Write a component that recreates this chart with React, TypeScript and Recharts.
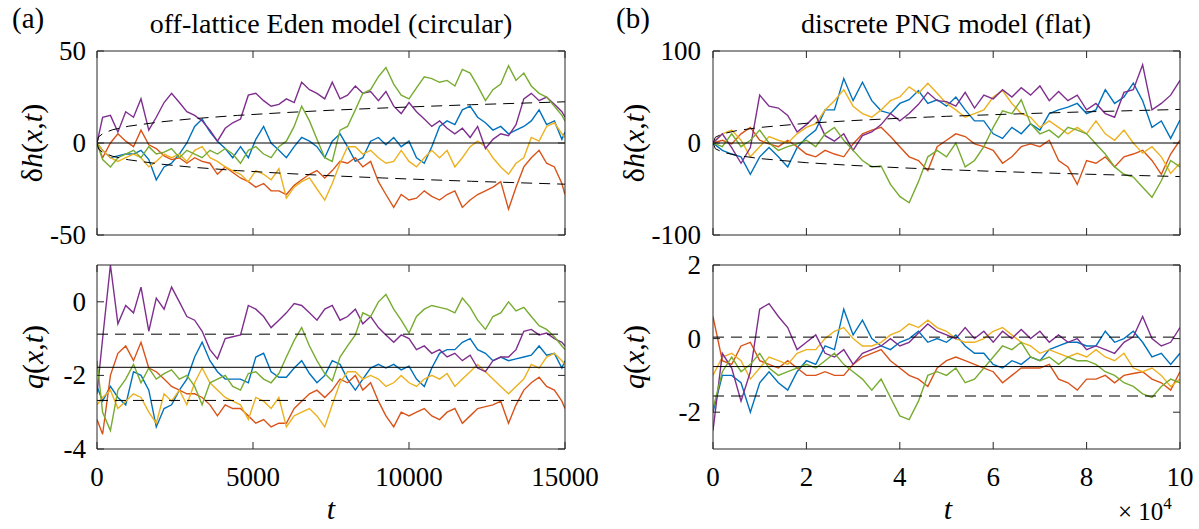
import React from 'react';
import { LineChart, Line, XAxis, YAxis } from 'recharts';

const FONT = '"Liberation Serif", "Times New Roman", Times, serif';
const FS = { fontFamily: FONT };
const AXC = '#262626';
const TL = 7;
const TICKFS = 27;

// ---------- panel (a): off-lattice Eden model (circular) ----------
const tA = [0,180,430,670,920,1170,1410,1660,1900,2150,2390,2640,2880,3130,3370,3620,3860,4110,4350,4600,4850,5090,5340,5580,5830,6070,6320,6560,6810,7050,7300,7540,7790,8030,8280,8520,8770,9020,9260,9510,9750,10000,10240,10490,10730,10980,11220,11470,11710,11960,12200,12450,12690,12940,13190,13430,13680,13920,14170,14410,14660,14900,15000];

const aDhBlue = [0,-4,-8,-7,-6,-6,-4,-9,-20,-13, -11,-6,0,9,13,6,1,-3,-8,-2, -8,2,9,0,-4,-8,-2,3,1,-2, -8,1,5,-2,-10,-8,1,3,-1,3, -2,1,-8,-11,-2,9,12,10,18,20, 14,11,7,9,5,7,9,12,18,10, 12,2,6];
const aDhOrange = [0,-8,0,5,1,-2,7,-1,-3,-7, -9,-8,-11,-8,-10,-11,-17,-13,-16,-19, -21,-24,-22,-26,-26,-28,-23,-20,-17,-15, -19,-15,-10,-11,-8,-13,-10,-21,-28,-35, -28,-31,-30,-26,-29,-31,-28,-26,-35,-31, -28,-26,-24,-21,-36,-24,-13,-8,-4,-11, -13,-22,-28];
const aDhYellow = [0,-4,-8,-10,-8,-6,-8,-13,-10,-6, -8,-6,-10,-4,-2,-8,-10,-13,-15,-17, -21,-15,-17,-20,-14,-30,-24,-21,-19,-25, -31,-22,-11,-2,-2,-6,-4,-8,-11,-10, -4,-10,-13,-8,-4,-8,-4,-13,-8,-2, 1,-2,-8,-13,-17,-11,-8,3,1,9, 11,5,3];
const aDhPurple = [0,14,15,6,17,14,24,7,14,22, 27,22,17,15,12,7,1,8,11,13, 26,27,23,20,21,24,22,33,29,27, 24,33,24,26,31,27,28,23,28,20, 16,22,17,13,9,12,8,5,8,3, 9,-3,2,5,4,10,24,27,23,25, 21,17,14];
const aDhGreen = [0,-9,-13,-8,-6,-4,-8,-2,-6,-5, -3,-8,-4,-6,-8,-4,-6,-3,-6,-11, -4,-2,-6,-8,-2,1,9,20,12,2, -8,-10,7,9,18,27,29,36,41,32, 26,24,30,36,35,33,34,31,40,38, 31,23,29,32,42,34,38,31,27,25, 20,15,12];

const aQBlue = [-2.3,-2.7,-2.3,-2.6,-2.8,-1.9,-2.0,-2.4,-3.4,-2.9, -2.8,-2.4,-2.1,-1.5,-1.1,-1.6,-1.9,-2.1,-2.1,-2.1, -2.2,-1.5,-1.4,-1.9,-2.05,-2.05,-1.8,-1.6,-1.95,-2.2, -2.0,-1.6,-1.7,-2.1,-2.4,-2.1,-1.8,-1.7,-1.8,-1.7, -1.85,-1.75,-2.1,-2.3,-1.8,-1.4,-1.3,-1.3,-1.1,-1.0, -1.3,-1.4,-1.6,-1.5,-1.6,-1.55,-1.5,-1.45,-1.2,-1.45, -1.4,-1.8,-1.6];
const aQOrange = [-3.2,-3.6,-2.0,-1.4,-1.2,-1.6,-1.1,-1.8,-1.9,-2.1, -2.3,-2.4,-2.5,-2.5,-2.6,-2.8,-3.1,-2.8,-2.9,-2.9, -3.1,-3.3,-3.2,-3.4,-3.3,-3.3,-2.9,-2.7,-2.5,-2.4, -2.6,-2.4,-2.1,-2.2,-2.0,-2.4,-2.2,-2.7,-3.1,-3.4, -3.0,-3.1,-3.0,-2.9,-3.1,-3.2,-3.0,-2.9,-3.3,-3.1, -2.9,-2.85,-2.8,-2.7,-3.3,-2.8,-2.4,-2.2,-2.05,-2.3, -2.4,-2.7,-2.9];
const aQYellow = [-2.8,-2.6,-2.4,-2.9,-2.7,-2.5,-2.6,-3.0,-3.3,-2.5, -2.7,-2.4,-2.8,-2.2,-1.8,-2.2,-2.4,-2.6,-2.7,-2.8, -3.2,-2.6,-2.7,-2.9,-2.6,-3.4,-3.1,-3.0,-2.9,-3.1, -3.4,-2.8,-2.2,-1.9,-1.9,-2.1,-2.0,-2.1,-2.3,-2.2, -2.0,-2.2,-2.3,-2.1,-2.0,-2.1,-1.95,-2.3,-2.1,-1.9, -1.7,-1.9,-2.1,-2.3,-2.5,-2.3,-2.1,-1.7,-1.8,-1.5, -1.4,-1.6,-1.7];
const aQPurple = [-2.5,-1.0,1.0,-0.6,-0.1,-0.3,0.4,-0.8,0.1,-0.2, 0.4,0.0,-0.4,-0.5,-0.8,-1.3,-1.55,-1.0,-0.95,-0.9, -0.1,-0.2,-0.4,-0.7,-0.5,-0.3,-0.05,-0.1,-0.3,-0.5, -0.2,-0.1,-0.5,-0.4,-0.2,-0.6,-0.4,-0.7,-0.9,-1.1, -0.9,-1.0,-1.3,-1.2,-1.4,-1.3,-1.5,-1.4,-1.6,-1.45, -1.8,-1.9,-1.6,-1.5,-1.5,-1.3,-0.8,-0.75,-0.9,-0.85, -1.0,-1.1,-1.2];
const aQGreen = [-1.6,-3.0,-3.5,-2.4,-2.1,-1.7,-2.2,-1.8,-2.1,-1.95, -1.85,-2.1,-2.0,-2.3,-2.8,-2.2,-2.1,-2.0,-2.3,-2.4, -1.95,-1.9,-2.1,-2.2,-1.95,-1.5,-1.05,-0.7,-1.2,-1.6, -1.95,-2.15,-1.5,-1.2,-0.9,-0.3,-0.4,0.0,0.2,-0.2, -0.5,-0.85,-0.4,-0.2,-0.1,-0.15,-0.2,-0.3,0.1,-0.15, -0.5,-0.75,-0.4,-0.3,0.0,-0.25,-0.15,-0.4,-0.65,-0.75, -0.95,-1.2,-1.3];

const aDashT = [0,50,200,500,1000,2000,3000,4500,6000,7500,9000,10500,12000,13500,15000];
const aDashUp = [0,3.3,5.3,7.2,9.1,11.4,13.1,15.0,16.5,17.8,18.9,19.9,20.8,21.6,22.4];
const aDashLo = [0,-3.3,-5.3,-7.2,-9.1,-11.4,-13.1,-15.0,-16.5,-17.8,-18.9,-19.9,-20.8,-21.6,-22.4];
const aQMean = -1.78;
const aQBand = [-0.88, -2.68];

// ---------- panel (b): discrete PNG model (flat) ----------
const tB = [0,2000,4000,6000,8000,10000,12000,14000,16000,18000,20000,22000,24000,26000,28000,30000,32000,34000,36000,38000,40000,42000,44000,46000,48000,50000,52000,54000,56000,58000,60000,62000,64000,66000,68000,70000,72000,74000,76000,78000,80000,82000,84000,86000,88000,90000,92000,94000,96000,98000,100000];

const bDhBlue = [0,-8,-12,-15,-34,-15,-5,-15,-26,-5, 6,14,36,36,70,46,66,46,35,32, 43,47,57,43,47,40,50,36,24,24, 10,5,17,10,21,14,32,36,39,43, 32,36,58,43,50,65,46,17,24,5, 25];
const bDhOrange = [0,3,-1,10,17,3,-1,-4,3,-4, -12,-15,-8,-12,-15,-1,10,14,17,7, -4,-15,-19,-30,-4,3,10,7,-1,-4, -8,-22,-15,-4,-1,-4,3,-19,-26,-45, -19,-22,-15,-26,-15,-12,-8,-19,-34,-12, 3];
const bDhYellow = [0,10,14,3,-15,-4,7,3,0,10, 17,21,36,46,58,40,32,28,36,46, 50,61,54,65,54,43,36,28,32,36, 50,57,43,32,28,17,24,17,10,17, 10,24,10,3,14,0,-11,-4,-15,-33, -22];
const bDhPurple = [0,10,-5,-22,-5,52,40,38,30,12, 20,30,8,2,10,-8,8,12,20,32, 24,32,42,55,46,45,40,55,38,52, 48,58,50,60,52,62,46,56,46,52, 36,43,32,28,55,58,85,36,43,52, 68];
const bDhGreen = [0,-4,10,-4,3,14,0,-8,-4,-1, 3,-4,10,17,3,-8,-19,-26,-25,-45, -58,-65,-42,-15,-8,-15,0,-26,-19,-4, 17,35,32,47,21,10,14,6,17,14, 10,-1,-12,-26,-34,-37,-48,-59,-41,-19, -26];

const bQBlue = [-2.0,-1.0,-1.0,-1.2,-2.0,-1.2,-0.9,-1.2,-1.4,-0.9, -0.6,-0.7,-0.2,-0.3,0.8,0.1,0.5,0.0,-0.2,-0.3, -0.1,0.0,0.2,-0.1,0.0,-0.1,0.1,-0.2,-0.4,-0.4, -0.7,-0.8,-0.6,-0.7,-0.5,-0.6,-0.3,-0.2,-0.1,-0.1, -0.2,-0.2,0.2,-0.1,0.0,0.2,-0.1,-0.5,-0.4,-0.7, -0.4];
const bQOrange = [0.6,-0.6,-0.7,-0.2,-0.1,-0.6,-0.7,-0.8,-0.6,-0.8, -1.0,-1.0,-0.9,-1.0,-1.0,-0.7,-0.5,-0.4,-0.3,-0.6, -0.8,-1.0,-1.1,-1.3,-0.8,-0.6,-0.5,-0.6,-0.7,-0.8, -0.9,-1.2,-1.0,-0.8,-0.8,-0.8,-0.7,-1.1,-1.2,-1.4, -1.1,-1.1,-1.0,-1.2,-1.0,-0.95,-0.9,-1.1,-1.2,-1.4, -0.9];
const bQYellow = [-1.0,-0.5,-0.4,-0.6,-1.1,-0.8,-0.5,-0.6,-0.7,-0.4, -0.3,-0.3,0.0,0.2,0.3,0.0,-0.2,-0.2,-0.1,0.1, 0.2,0.4,0.3,0.5,0.3,0.2,0.0,-0.1,-0.1,0.0, 0.2,0.3,0.1,-0.1,-0.2,-0.4,-0.3,-0.4,-0.5,-0.4, -0.5,-0.3,-0.5,-0.6,-0.4,-0.8,-0.9,-0.8,-1.0,-1.3, -1.1];
const bQPurple = [-2.5,-0.4,-0.8,-1.7,-0.9,0.8,0.95,0.6,0.3,-0.3, -0.1,0.1,-0.4,-0.5,-0.3,-0.7,-0.4,-0.3,-0.2,0.0, -0.2,-0.1,0.15,0.4,0.2,0.1,0.0,0.3,0.0,0.2, -0.1,0.2,0.0,0.25,0.0,0.2,-0.1,0.1,-0.1,0.0, -0.3,-0.2,-0.3,-0.4,-0.1,0.05,0.6,0.0,-0.2,-0.1, 0.3];
const bQGreen = [-1.9,-0.9,-0.5,-0.9,-0.7,-0.4,-0.8,-1.0,-0.9,-0.8, -0.7,-0.8,-0.6,-0.4,-0.7,-0.9,-1.1,-1.4,-1.1,-1.6, -2.1,-2.2,-1.7,-1.0,-0.9,-1.0,-0.8,-1.2,-1.1,-0.8, -0.5,-0.2,-0.3,-0.1,-0.5,-0.6,-0.5,-0.7,-0.5,-0.6, -0.6,-0.7,-0.9,-1.0,-1.2,-1.3,-1.5,-1.6,-1.3,-1.1, -1.2];

const bDashT = [0,500,2000,5000,10000,20000,30000,40000,50000,60000,70000,80000,90000,100000];
const bDashUp = [0,6.2,9.9,13.4,16.9,21.4,24.4,26.9,29.0,30.8,32.4,33.9,35.2,36.5];
const bDashLo = [0,-6.2,-9.9,-13.4,-16.9,-21.4,-24.4,-26.9,-29.0,-30.8,-32.4,-33.9,-35.2,-36.5];
const bQMean = -0.76;
const bQBand = [0.04, -1.56];

// ---------- ticks ----------
const aXTicks = [0, 5000, 10000, 15000];
const bXTicks = [0, 20000, 40000, 60000, 80000, 100000];
const aDhTicks = [-50, 0, 50];
const aQTicks = [-4, -2, 0];
const bDhTicks = [-100, 0, 100];
const bQTicks = [-2, 0, 2];

const SERIES = [
  { key: 'blue', color: '#0072BD' },
  { key: 'orange', color: '#D95319' },
  { key: 'yellow', color: '#EDB120' },
  { key: 'purple', color: '#7E2F8E' },
  { key: 'green', color: '#77AC30' },
];

function rowsOf(t: number[], b: number[], o: number[], y: number[], p: number[], g: number[]) {
  return t.map((tt, i) => ({ t: tt, blue: b[i], orange: o[i], yellow: y[i], purple: p[i], green: g[i] }));
}
function pts(t: number[], v: number[]) {
  return t.map((tt, i) => ({ t: tt, v: v[i] }));
}

const bottomTick = (show: boolean, fmt: (v: number) => string) => (props: any) => {
  const { x, y, payload } = props;
  return (
    <g>
      <line x1={x} y1={y} x2={x} y2={y - TL} stroke={AXC} strokeWidth={1} />
      {show && (
        <text x={x} y={y + 37} textAnchor="middle" style={FS} fontSize={TICKFS} fill="#000">
          {fmt(payload.value)}
        </text>
      )}
    </g>
  );
};
const topTick = (props: any) => {
  const { x, y } = props;
  return <line x1={x} y1={y} x2={x} y2={y + TL} stroke={AXC} strokeWidth={1} />;
};
const leftTick = (gap: number) => (props: any) => {
  const { x, y, payload } = props;
  return (
    <g>
      <line x1={x} y1={y} x2={x + TL} y2={y} stroke={AXC} strokeWidth={1} />
      <text x={x - gap} y={y + 9} textAnchor="end" style={FS} fontSize={TICKFS} fill="#000">
        {String(payload.value)}
      </text>
    </g>
  );
};
const rightTick = (props: any) => {
  const { x, y } = props;
  return <line x1={x} y1={y} x2={x - TL} y2={y} stroke={AXC} strokeWidth={1} />;
};

type PanelProps = {
  left: number; top: number; width: number; height: number;
  margin: { top: number; right: number; bottom: number; left: number };
  yAxisWidth: number; gap: number;
  rows: any[];
  xDomain: [number, number]; xTicks: number[]; showX: boolean; xFmt: (v: number) => string;
  yDomain: [number, number]; yTicks: number[];
  solid: number;
  dashed: { t: number; v: number }[][];
};

function Panel(p: PanelProps) {
  const solidData = [{ t: p.xDomain[0], v: p.solid }, { t: p.xDomain[1], v: p.solid }];
  return (
    <div style={{ position: 'absolute', left: p.left, top: p.top, fontFamily: FONT }}>
      <LineChart width={p.width} height={p.height} data={p.rows} margin={p.margin} style={FS}>
        <XAxis xAxisId={0} dataKey="t" type="number" domain={p.xDomain} ticks={p.xTicks} interval={0}
          allowDataOverflow height={1} tickSize={0} tickMargin={0}
          axisLine={{ stroke: AXC, strokeWidth: 1 }} tickLine={false}
          tick={bottomTick(p.showX, p.xFmt)} />
        <XAxis xAxisId="top" orientation="top" dataKey="t" type="number" domain={p.xDomain} ticks={p.xTicks}
          interval={0} allowDataOverflow height={1} tickSize={0} tickMargin={0}
          axisLine={{ stroke: AXC, strokeWidth: 1 }} tickLine={false} tick={topTick} />
        <YAxis yAxisId={0} type="number" domain={p.yDomain} ticks={p.yTicks} interval={0}
          allowDataOverflow width={p.yAxisWidth} tickSize={0} tickMargin={0}
          axisLine={{ stroke: AXC, strokeWidth: 1 }} tickLine={false} tick={leftTick(p.gap)} />
        <YAxis yAxisId="right" orientation="right" type="number" domain={p.yDomain} ticks={p.yTicks}
          interval={0} allowDataOverflow width={1} tickSize={0} tickMargin={0}
          axisLine={{ stroke: AXC, strokeWidth: 1 }} tickLine={false} tick={rightTick} />
        {SERIES.map((s) => (
          <Line key={s.key} type="linear" dataKey={s.key} stroke={s.color} strokeWidth={1.4}
            dot={false} activeDot={false} isAnimationActive={false} />
        ))}
        <Line type="linear" data={solidData} dataKey="v" stroke="#000" strokeWidth={1}
          dot={false} activeDot={false} isAnimationActive={false} />
        {p.dashed.map((d, i) => (
          <Line key={'d' + i} type="linear" data={d} dataKey="v" stroke="#000" strokeWidth={1}
            strokeDasharray="11 7" dot={false} activeDot={false} isAnimationActive={false} />
        ))}
      </LineChart>
    </div>
  );
}

function YLabel({ x, y, first }: { x: number; y: number; first: string }) {
  return (
    <text transform={`translate(${x},${y}) rotate(-90)`} textAnchor="middle" dy={10}
      style={FS} fontSize={30} fill="#000">
      {first === 'dh' ? (
        <>
          <tspan>δ</tspan><tspan fontStyle="italic">h</tspan>
        </>
      ) : (
        <tspan fontStyle="italic">q</tspan>
      )}
      <tspan>(</tspan><tspan fontStyle="italic">x</tspan><tspan>,</tspan>
      <tspan fontStyle="italic">t</tspan><tspan>)</tspan>
    </text>
  );
}

export default function App() {
  const aDhRows = rowsOf(tA, aDhBlue, aDhOrange, aDhYellow, aDhPurple, aDhGreen);
  const aQRows = rowsOf(tA, aQBlue, aQOrange, aQYellow, aQPurple, aQGreen);
  const bDhRows = rowsOf(tB, bDhBlue, bDhOrange, bDhYellow, bDhPurple, bDhGreen);
  const bQRows = rowsOf(tB, bQBlue, bQOrange, bQYellow, bQPurple, bQGreen);
  const aFmt = (v: number) => String(v);
  const bFmt = (v: number) => String(v / 10000);
  const aQDash = aQBand.map((v) => [{ t: 0, v }, { t: 15000, v }]);
  const bQDash = bQBand.map((v) => [{ t: 0, v }, { t: 100000, v }]);

  return (
    <div style={{ position: 'fixed', left: 0, top: 0, width: 1199, height: 529, background: '#fff', overflow: 'hidden', fontFamily: FONT }}>
      <Panel left={0} top={0} width={600} height={250} margin={{ top: 50, right: 34, bottom: 14, left: 0 }}
        yAxisWidth={97} gap={11} rows={aDhRows} xDomain={[0, 15000]} xTicks={aXTicks} showX={false} xFmt={aFmt}
        yDomain={[-50, 50]} yTicks={aDhTicks} solid={0} dashed={[pts(aDashT, aDashUp), pts(aDashT, aDashLo)]} />
      <Panel left={0} top={250} width={600} height={279} margin={{ top: 14, right: 34, bottom: 79, left: 0 }}
        yAxisWidth={97} gap={11} rows={aQRows} xDomain={[0, 15000]} xTicks={aXTicks} showX={true} xFmt={aFmt}
        yDomain={[-4, 1]} yTicks={aQTicks} solid={aQMean} dashed={aQDash} />
      <Panel left={600} top={0} width={599} height={250} margin={{ top: 50, right: 18, bottom: 14, left: 0 }}
        yAxisWidth={113} gap={12} rows={bDhRows} xDomain={[0, 100000]} xTicks={bXTicks} showX={false} xFmt={bFmt}
        yDomain={[-100, 100]} yTicks={bDhTicks} solid={0} dashed={[pts(bDashT, bDashUp), pts(bDashT, bDashLo)]} />
      <Panel left={600} top={250} width={599} height={279} margin={{ top: 14, right: 18, bottom: 79, left: 0 }}
        yAxisWidth={113} gap={12} rows={bQRows} xDomain={[0, 100000]} xTicks={bXTicks} showX={true} xFmt={bFmt}
        yDomain={[-3, 2]} yTicks={bQTicks} solid={bQMean} dashed={bQDash} />

      <svg width={1199} height={529} style={{ position: 'absolute', left: 0, top: 0, pointerEvents: 'none', fontFamily: FONT }}>
        <text x={12} y={28} style={FS} fontSize={29} fill="#000">(a)</text>
        <text x={616} y={28} style={FS} fontSize={29} fill="#000">(b)</text>
        <text x={331} y={33} textAnchor="middle" style={FS} fontSize={28} fill="#000">off-lattice Eden model (circular)</text>
        <text x={946} y={33} textAnchor="middle" style={FS} fontSize={28} fill="#000">discrete PNG model (flat)</text>
        <YLabel x={32} y={143} first="dh" />
        <YLabel x={33} y={357} first="q" />
        <YLabel x={634} y={143} first="dh" />
        <YLabel x={634} y={357} first="q" />
        <text x={331} y={519} textAnchor="middle" style={FS} fontSize={30} fontStyle="italic" fill="#000">t</text>
        <text x={948} y={519} textAnchor="middle" style={FS} fontSize={30} fontStyle="italic" fill="#000">t</text>
        <text x={1118} y={520} style={FS} fontSize={25} fill="#000">
          <tspan>× 10</tspan><tspan dy={-11} fontSize={17}>4</tspan>
        </text>
      </svg>
    </div>
  );
}
